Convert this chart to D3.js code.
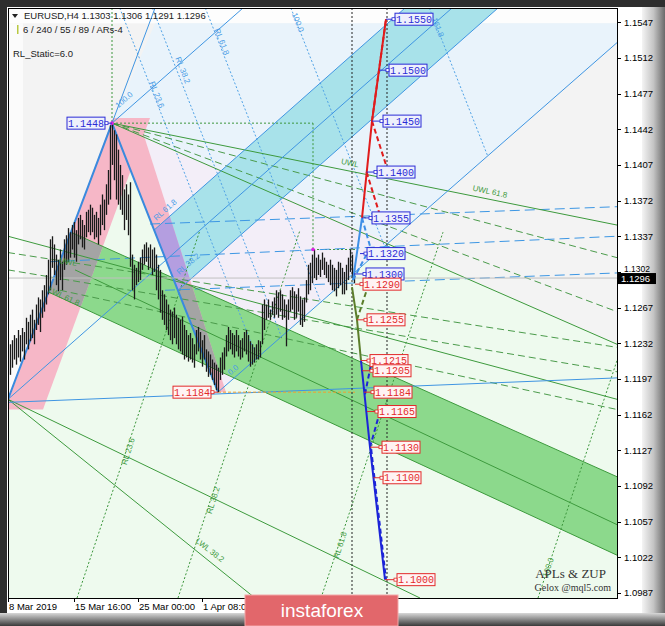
<!DOCTYPE html>
<html><head><meta charset="utf-8">
<script src="https://cdn.jsdelivr.net/npm/d3@7"></script>
<style>body{margin:0;background:#2b2b2b}svg{display:block}</style>
</head><body>
<svg id="c" width="665" height="626"></svg>
<script>
// ---------------- DATA ----------------
const symbol = "EURUSD,H4";
const headerOHLC = ["1.1303","1.1306","1.1291","1.1296"];
const infoLine = "6 / 240 / 55 / 89 / ARs-4";
const staticLine = "RL_Static=6.0";
const lastPrice = 1.1296;
const priceTicks = [1.1547,1.1512,1.1477,1.1442,1.1407,1.1372,1.1337,1.1302,1.1267,1.1232,1.1197,1.1162,1.1127,1.1092,1.1057,1.1022,1.0987];
const timeTickIdx = [0,33,65,97];
const timeTickLabels = ["8 Mar 2019","15 Mar 16:00","25 Mar 00:00","1 Apr 08:00"];
const barStart = 1;
const barHigh = [
1.1231,1.1235,1.1240,1.1237,1.1245,1.1240,1.1247,1.1243,1.1257,1.1253,
1.1260,1.1265,1.1255,1.1270,1.1277,1.1275,1.1284,1.1289,1.1299,1.1314,
1.1334,1.1337,1.1329,1.1319,1.1314,1.1324,1.1312,1.1334,1.1338,1.1345,
1.1341,1.1348,1.1351,1.1343,1.1355,1.1358,1.1353,1.1348,1.1361,1.1363,
1.1368,1.1365,1.1358,1.1361,1.1355,1.1368,1.1378,1.1373,1.1388,1.1402,
1.1446,1.1448,1.1441,1.1437,1.1422,1.1407,1.1397,1.1383,1.1388,1.1378,
1.1390,1.1319,1.1309,1.1306,1.1312,1.1316,1.1324,1.1329,1.1331,1.1326,
1.1329,1.1324,1.1326,1.1319,1.1309,1.1304,1.1284,1.1280,1.1275,1.1270,
1.1265,1.1263,1.1267,1.1260,1.1257,1.1255,1.1258,1.1250,1.1245,1.1240,
1.1242,1.1237,1.1231,1.1245,1.1248,1.1243,1.1235,1.1240,1.1226,1.1224,
1.1221,1.1216,1.1213,1.1211,1.1208,1.1218,1.1223,1.1228,1.1240,1.1248,
1.1245,1.1242,1.1240,1.1245,1.1240,1.1235,1.1237,1.1243,1.1245,1.1240,
1.1234,1.1231,1.1228,1.1231,1.1235,1.1234,1.1270,1.1275,1.1270,1.1275,
1.1265,1.1273,1.1277,1.1284,1.1282,1.1284,1.1280,1.1275,1.1270,1.1275,
1.1284,1.1287,1.1283,1.1280,1.1286,1.1278,1.1275,1.1277,1.1294,1.1309,
1.1311,1.1319,1.1324,1.1316,1.1319,1.1314,1.1321,1.1316,1.1312,1.1309,
1.1314,1.1309,1.1306,1.1304,1.1312,1.1311,1.1306,1.1302,1.1309,1.1316,
1.1324,1.1319,1.1306];
const barLow = [
1.1201,1.1208,1.1216,1.1211,1.1218,1.1214,1.1224,1.1216,1.1231,1.1226,
1.1234,1.1237,1.1231,1.1245,1.1250,1.1243,1.1257,1.1263,1.1270,1.1280,
1.1284,1.1306,1.1299,1.1289,1.1283,1.1294,1.1284,1.1304,1.1309,1.1312,
1.1316,1.1324,1.1316,1.1312,1.1329,1.1334,1.1326,1.1324,1.1336,1.1341,
1.1338,1.1341,1.1334,1.1336,1.1329,1.1338,1.1348,1.1343,1.1358,1.1368,
1.1373,1.1407,1.1392,1.1373,1.1368,1.1363,1.1358,1.1343,1.1353,1.1338,
1.1307,1.1284,1.1275,1.1289,1.1292,1.1294,1.1304,1.1309,1.1312,1.1304,
1.1306,1.1299,1.1302,1.1284,1.1275,1.1262,1.1255,1.1250,1.1245,1.1240,
1.1235,1.1231,1.1237,1.1231,1.1226,1.1224,1.1221,1.1216,1.1218,1.1214,
1.1216,1.1213,1.1208,1.1221,1.1224,1.1216,1.1209,1.1216,1.1204,1.1199,
1.1201,1.1196,1.1191,1.1186,1.1184,1.1196,1.1201,1.1206,1.1219,1.1224,
1.1226,1.1221,1.1218,1.1224,1.1219,1.1216,1.1218,1.1224,1.1221,1.1214,
1.1209,1.1211,1.1213,1.1216,1.1216,1.1218,1.1231,1.1245,1.1255,1.1257,
1.1255,1.1260,1.1257,1.1260,1.1257,1.1263,1.1255,1.1257,1.1229,1.1255,
1.1263,1.1265,1.1255,1.1257,1.1263,1.1250,1.1248,1.1253,1.1272,1.1280,
1.1284,1.1291,1.1296,1.1294,1.1299,1.1297,1.1304,1.1299,1.1296,1.1292,
1.1289,1.1284,1.1283,1.1278,1.1286,1.1289,1.1280,1.1280,1.1284,1.1294,
1.1302,1.1296,1.1291];

// shaded zones [barIndex, price]
const zoneLightGreen = [[0,1.1174],[52,1.1448],[304.5,1.1231],[304.5,1.0982],[0,1.0982]];
const zoneLightBlue = [[52,1.1448],[73.5,1.1546],[304.5,1.1546],[304.5,1.1527],[105,1.1184]];
const zoneLavender = [[52,1.1448],[190,1.1332],[105,1.1184]];
const zoneCyan = [[73,1.1343],[198.5,1.1561],[245,1.1561],[85,1.1284]];
const zoneGreen = [[31.5,1.1341],[304.5,1.1101],[304.5,1.1024],[20.5,1.1282]];
const zonePinkUp = [[-1.5,1.1167],[52.5,1.1453],[71,1.1453],[17.5,1.1167]];
const zonePinkDown = [[52,1.1448],[66,1.1448],[109,1.1184],[105,1.1184]];

// pivots of the blue zigzag
const zigzag = [[0,1.1177],[52,1.1448],[105,1.1184]];
// lines [i1,p1,i2,p2]
const blueSolid = [[52,1.1448,73.5,1.1561],[52,1.1448,117.5,1.1561],[0,1.1177,222,1.1561],
  [73,1.1343,198.5,1.1561],[85,1.1284,245,1.1561],[105,1.1184,304.5,1.1527],[0,1.1174,304.5,1.1198]];
const blueDashed = [[71,1.1349,304.5,1.1366],[21,1.1312,304.5,1.1337],[78.5,1.1284,304.5,1.1301]];
const blueDotted = [[55.85,1.1561,124.65,1.1217],[72.2,1.1561,136.8,1.1238],[98.65,1.1561,156.5,1.1272],
  [141.45,1.1561,188.3,1.1327],[210.65,1.1561,239.8,1.1416]];
const greenSolid = [[52,1.1448,304.5,1.1348],[52,1.1448,304.5,1.1231],[31.5,1.1341,304.5,1.1101],
  [33.5,1.1304,304.5,1.1054],[20.5,1.1282,304.5,1.1024],[0,1.1177,123.5,1.0982],[0,1.1177,206,1.0982],
  [0,1.1337,304.5,1.1177]];
const greenDashed = [[0,1.1321,304.5,1.1228],[52,1.1448,304.5,1.1316],[52,1.1448,304.5,1.1263],
  [0,1.1304,304.5,1.1204],[26,1.1284,304.5,1.1167]];
const greenDotted = [[34.5,1.0982,96,1.1343],[85,1.0982,146,1.1343],[156.5,1.0982,217.5,1.1341],
  [265,1.0982,304.5,1.1215],[52,1.1448,152.5,1.1448],[152.5,1.1448,152.5,1.1324],[152.5,1.1324,173.5,1.1324],
  [52,1.1561,52,1.1448]];
const orangeDashed = [[105,1.1184,173.5,1.1184]];
const vDotted = [172, 189.5];
const magentaDots = [[52,1.1448],[152.5,1.1324]];

// ZUP projections
const redSolid = [[177,1.1355],[182,1.1450],[189,1.1550]];
const redDashed = [[182,1.1450,189.5,1.1404],[179.3,1.1400,187,1.1351],[182,1.1450,189,1.1550]];
const zBlueSolid = [[172.5,1.1294],[177,1.1355]];
const zBlueDashed = [[177,1.1355,182.5,1.1317],[172.5,1.1294,179.5,1.1320]];
const oliveSolid = [[172,1.1287],[174.5,1.1255],[176.5,1.1215]];
const oliveDashed = [[174.5,1.1255,180,1.1288]];
const navySolid = [[176.5,1.1215],[181,1.1130],[188.5,1.1000]];
const navyDashed = [[178.5,1.1182,182,1.1216],[181,1.1130,186,1.1165],[181.6,1.1128,189,1.1000]];

// ZUP labels: price, box index, anchor index
const blueLabelPrice = [1.1550,1.1500,1.1450,1.1400,1.1355,1.1320,1.1300];
const blueLabelIdx   = [193.5,190.5,187.5,184.5,182,179.5,179];
const blueLabelAnchor= [189,185.5,182,179.3,177,176,173];
const redLabelPrice = [1.1290,1.1255,1.1215,1.1205,1.1184,1.1165,1.1130,1.1100,1.1000];
const redLabelIdx   = [177.5,179.5,181,182.5,183,185,187,187.5,194.5];
const redLabelAnchor= [173.5,174.5,176.5,177,178,179.5,181,182.7,188.5];
const leftLabels = [{price:1.1448, idx:29.5, anchor:52, kind:"blue"},{price:1.1184, idx:82.5, anchor:105, kind:"red"}];

// line captions [text, idx, price, angle, colour-kind]
const captions = [
 ["RL 23.6",74.5,1.1476,68.6,"b"],["RL 38.2",87.5,1.1500,68.6,"b"],["RL 61.8",107,1.1528,68.6,"b"],
 ["100.0",145,1.1547,68.6,"b"],["161.8",215,1.1542,68.6,"b"],["RL 61.8",78.5,1.1363,-41.5,"b"],
 ["RL 38.2",90,1.1310,-41.5,"b"],["0.0",112.5,1.1206,-41,"b"],["100.0",58,1.1471,-41,"b"],
 ["UWL",171,1.1409,12,"g"],["UWL 61.8",241,1.1381,12,"g"],["LWL 38.2",101,1.1029,38,"g"],
 ["RL 23.6",60,1.1126,-72,"g"],["RL 38.2",102.5,1.1078,-72,"g"],["RL 61.8",166,1.1034,-72,"g"],
 ["100.0",270,1.1012,-72,"g"],["LWL 61.8",28,1.1278,25,"g"],["UWL",30,1.1312,10,"g"]];

// ---------------- DRAW ----------------
const svg = d3.select("#c");
const x = d3.scaleLinear().domain([0,304.5]).range([8,617]);
const y = d3.scaleLinear().domain([1.0982,1.1561]).range([598,8]);
const P = a => a.map(([i,p]) => [x(i), y(p)]);
const poly = a => d3.line()(P(a)) + "Z";
const seg = s => d3.line()([[x(s[0]),y(s[1])],[x(s[2]),y(s[3])]]);

const defs = svg.append("defs");
defs.append("clipPath").attr("id","plot").append("rect")
  .attr("x",x(0)).attr("y",y(1.1561)).attr("width",x(304.5)-x(0)).attr("height",y(1.0982)-y(1.1561));
defs.append("clipPath").attr("id","cg").append("path").attr("d",poly(zoneGreen));
defs.append("clipPath").attr("id","cc").append("path").attr("d",poly(zoneCyan));
const gr = defs.append("linearGradient").attr("id","rb").attr("x1",0).attr("x2",1).attr("y1",0).attr("y2",0);
gr.append("stop").attr("offset","0").attr("stop-color","#f4f4f4");
gr.append("stop").attr("offset","0.5").attr("stop-color","#c4c4c4");
gr.append("stop").attr("offset","1").attr("stop-color","#6a6a6a");
const gb = defs.append("linearGradient").attr("id","bb").attr("x1",0).attr("x2",0).attr("y1",0).attr("y2",1);
gb.append("stop").attr("offset","0").attr("stop-color","#d8d8d8");
gb.append("stop").attr("offset","1").attr("stop-color","#3a3a3a");

// frame
svg.append("rect").attr("width",665).attr("height",626).attr("fill","#2e2e2e");
svg.append("rect").attr("x",7).attr("y",7).attr("width",658).attr("height",607).attr("fill","#ffffff");
svg.append("rect").attr("x",642).attr("y",7).attr("width",23).attr("height",607).attr("fill","url(#rb)");
svg.append("rect").attr("x",0).attr("y",613).attr("width",665).attr("height",13).attr("fill","url(#bb)");

const plot = svg.append("g").attr("clip-path","url(#plot)");
plot.append("rect").attr("x",x(0)).attr("y",y(1.1561)).attr("width",x(304.5)-x(0)).attr("height",y(1.0982)-y(1.1561)).attr("fill","#f3f3f3");
plot.append("path").attr("d",poly([[0,1.1561],[304.5,1.1561],[304.5,1.1546],[0,1.1546]])).attr("fill","#fdfdfd");
plot.append("path").attr("d",poly([[0,1.1546],[7.5,1.1546],[7.5,1.1176],[0,1.1176]])).attr("fill","#fbfbfb");
plot.append("path").attr("d",poly(zoneLightGreen)).attr("fill","#eefaee");
plot.append("path").attr("d",poly(zoneLightBlue)).attr("fill","#e9f3fb");
plot.append("path").attr("d",poly(zoneLavender)).attr("fill","#f3eef8");
plot.append("path").attr("d",poly(zoneCyan)).attr("fill","#a8e2ea");
plot.append("path").attr("d",poly(zoneGreen)).attr("fill","#8cd98c");
[zonePinkUp,zonePinkDown].forEach(z=>{
  plot.append("path").attr("d",poly(z)).attr("fill","#f6b7c7");
  plot.append("path").attr("d",poly(z)).attr("fill","#a4a4a4").attr("clip-path","url(#cg)");
  plot.append("path").attr("d",poly(z)).attr("fill","#b49ee0").attr("clip-path","url(#cc)");
});

const drawSegs = (arr, col, w, dash) => arr.forEach(s => plot.append("path").attr("d",seg(s))
   .attr("stroke",col).attr("stroke-width",w).attr("fill","none").attr("stroke-dasharray",dash||null));
drawSegs(blueDotted,"#4fa2e6",1,"2,2");
drawSegs(greenDotted,"#3c963c",1,"2,2");
drawSegs(greenDashed,"#4b9b4b",1,"7,4");
drawSegs(blueDashed,"#3d97e4",1,"10,5");
drawSegs(greenSolid,"#3d9a3d",1);
drawSegs(blueSolid,"#3f95e2",1);
plot.append("path").attr("d",d3.line()(P(zigzag))).attr("stroke","#3a8ade").attr("stroke-width",2).attr("fill","none");

// current price line
plot.append("path").attr("d",seg([0,lastPrice,304.5,lastPrice])).attr("stroke","#c0c0c0").attr("stroke-width",1);
drawSegs(orangeDashed,"#f0a030",1,"3,2");
vDotted.forEach(i=>drawSegs([[i,1.1561,i,1.0982]],"#222",1,"2,2"));

// bars
const bars = plot.append("g");
barHigh.forEach((h,k)=>{
  const xi = Math.round(x(barStart+k))+0.5;
  bars.append("line").attr("x1",xi).attr("x2",xi).attr("y1",y(h)).attr("y2",y(barLow[k]))
    .attr("stroke","#1a1a1a").attr("stroke-width",1.3);
});
magentaDots.forEach(d=>plot.append("circle").attr("cx",x(d[0])).attr("cy",y(d[1])).attr("r",1.8).attr("fill","#e020e0"));

// ZUP
const polyl = (a,col,w,dash)=>plot.append("path").attr("d",d3.line()(P(a))).attr("stroke",col).attr("stroke-width",w).attr("fill","none").attr("stroke-dasharray",dash||null);
polyl(oliveSolid,"#5b7d2a",2);
drawSegs(oliveDashed,"#5b7d2a",2,"5,3");
polyl(zBlueSolid,"#3d8fe6",2);
drawSegs(zBlueDashed,"#3d8fe6",2,"5,3");
polyl(navySolid,"#1c24d8",2);
drawSegs(navyDashed,"#1c24d8",2,"5,3");
polyl(redSolid,"#e01c1c",2);
drawSegs(redDashed,"#e01c1c",2,"5,3");

// captions
captions.forEach(([t,i,p,a,k])=>{
  plot.append("text").attr("transform",`translate(${x(i)},${y(p)}) rotate(${a})`)
   .attr("text-anchor","middle").attr("dy","0.35em")
   .attr("font-family","Liberation Sans, Arial, sans-serif").attr("font-size",8)
   .attr("fill",k==="b"?"#4a9de6":"#3f9a3f").text(t);
});

function zupLabel(price, idx, anchor, kind, left){
  const col = kind==="blue" ? "#2b2bd6" : "#e22a2a";
  const fill = kind==="blue" ? "#eef0fc" : "#fff3f3";
  const by = y(price), bx = x(idx), bw = 38, bh = 12;
  const g = plot.append("g");
  const cx = left ? bx+bw : bx;
  g.append("line").attr("x1",x(anchor)).attr("x2",cx).attr("y1",by).attr("y2",by).attr("stroke",col).attr("stroke-width",1);
  g.append("rect").attr("x",bx).attr("y",by-bh/2).attr("width",bw).attr("height",bh).attr("fill",fill).attr("stroke",col).attr("stroke-width",1);
  g.append("rect").attr("x",left?bx+bw:bx-3).attr("y",by-1.5).attr("width",3).attr("height",3).attr("fill","#fff").attr("stroke",col).attr("stroke-width",0.8);
  g.append("text").attr("x",bx+bw/2).attr("y",by+3.6).attr("text-anchor","middle")
   .attr("font-family","Liberation Mono, monospace").attr("font-size",10).attr("fill",col).text(price.toFixed(4));
}
blueLabelPrice.forEach((p,k)=>zupLabel(p,blueLabelIdx[k],blueLabelAnchor[k],"blue",false));
redLabelPrice.forEach((p,k)=>zupLabel(p,redLabelIdx[k],redLabelAnchor[k],"red",false));
leftLabels.forEach(d=>zupLabel(d.price,d.idx,d.anchor,d.kind,true));

// plot border
svg.append("rect").attr("x",x(0)+0.5).attr("y",y(1.1561)+0.5).attr("width",x(304.5)-x(0)).attr("height",y(1.0982)-y(1.1561))
  .attr("fill","none").attr("stroke","#000").attr("stroke-width",1);

// price axis
const font = "Liberation Sans, Arial, sans-serif";
priceTicks.forEach(p=>{
  const near = Math.abs(y(p)-y(lastPrice)) < 12;
  svg.append("line").attr("x1",x(304.5)).attr("x2",x(304.5)+4).attr("y1",Math.round(y(p))+0.5).attr("y2",Math.round(y(p))+0.5).attr("stroke","#000");
  svg.append("text").attr("x",x(304.5)+7).attr("y",y(p)+(near?0.5:3.5)).attr("font-family",font).attr("font-size",near?8.5:9.5).attr("fill","#000").text(p.toFixed(4));
});
svg.append("rect").attr("x",x(304.5)+1).attr("y",y(lastPrice)-5).attr("width",38).attr("height",11).attr("fill","#000");
svg.append("text").attr("x",x(304.5)+4).attr("y",y(lastPrice)+4).attr("font-family",font).attr("font-size",9.5).attr("fill","#fff").text(lastPrice.toFixed(4));

// time axis
timeTickIdx.forEach((i,k)=>{
  svg.append("line").attr("x1",Math.round(x(i))+0.5).attr("x2",Math.round(x(i))+0.5).attr("y1",y(1.0982)).attr("y2",y(1.0982)+4).attr("stroke","#000");
  svg.append("text").attr("x",x(i)+1).attr("y",y(1.0982)+12).attr("font-family",font).attr("font-size",9.5).attr("fill","#000").text(timeTickLabels[k]);
});

// header texts
svg.append("path").attr("d","M12,14 L18,14 L15,18 Z").attr("fill","#222");
svg.append("text").attr("x",24).attr("y",19).attr("font-family",font).attr("font-size",9.5).attr("fill","#222")
   .text(symbol + "  " + headerOHLC.join(" "));
svg.append("rect").attr("x",17).attr("y",25).attr("width",1.5).attr("height",9).attr("fill","#b8c840");
svg.append("text").attr("x",23).attr("y",33).attr("font-family",font).attr("font-size",9.5).attr("fill","#222").text(infoLine);
svg.append("text").attr("x",13).attr("y",57).attr("font-family",font).attr("font-size",9.5).attr("fill","#222").text(staticLine);

// signature
svg.append("text").attr("x",606).attr("y",578).attr("text-anchor","end").attr("font-family","Liberation Serif, serif").attr("font-size",13).attr("fill","#333").text("APLs & ZUP");
svg.append("text").attr("x",611).attr("y",591).attr("text-anchor","end").attr("font-family","Liberation Serif, serif").attr("font-size",10).attr("fill","#333").text("Gelox @mql5.com");

// banner
svg.append("rect").attr("x",245).attr("y",595).attr("width",153).attr("height",31).attr("fill","#e2676b").attr("stroke","#f2a8a8").attr("stroke-width",1);
svg.append("text").attr("x",322).attr("y",617).attr("text-anchor","middle").attr("font-family",font).attr("font-size",19).attr("fill","#fff").text("instaforex");
</script>
</body></html>
